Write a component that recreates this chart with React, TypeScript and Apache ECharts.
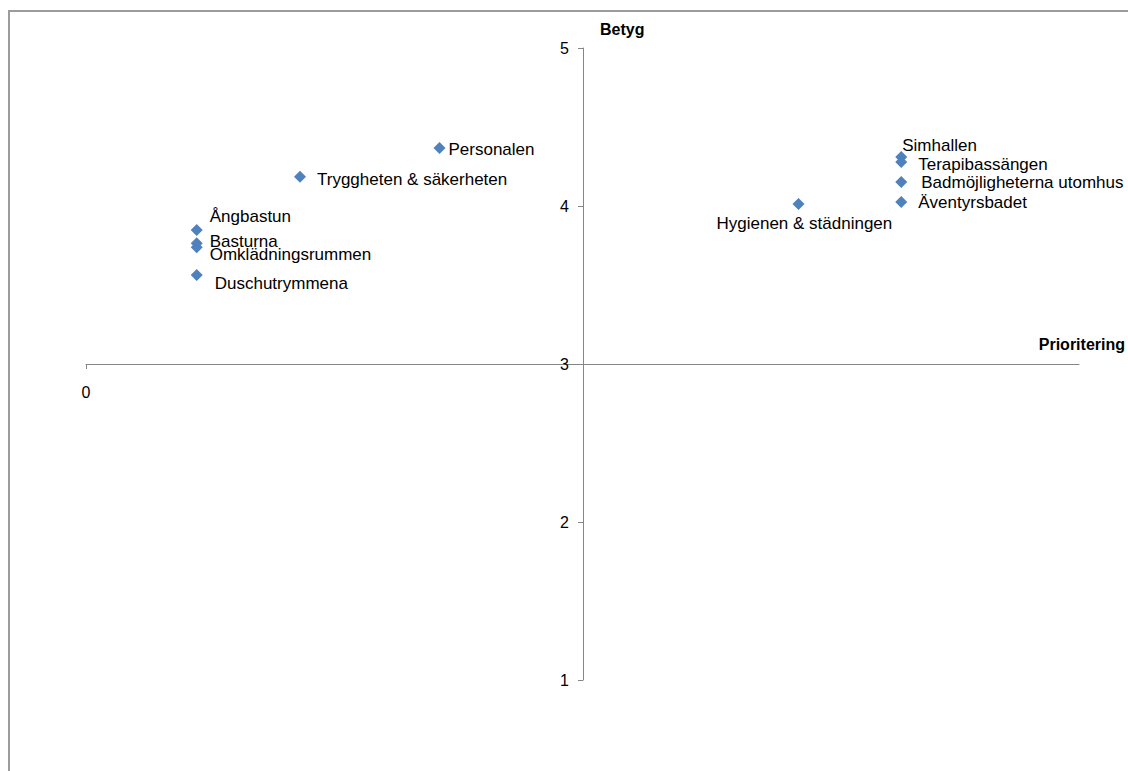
import React, { useEffect, useRef } from "react";
import * as echarts from "echarts";

const names = [
  "Personalen",
  "Tryggheten & säkerheten",
  "Ångbastun",
  "Basturna",
  "Omklädningsrummen",
  "Duschutrymmena",
  "Simhallen",
  "Terapibassängen",
  "Badmöjligheterna utomhus",
  "Äventyrsbadet",
  "Hygienen & städningen",
];
const prioritering = [0.712, 0.431, 0.223, 0.223, 0.223, 0.223, 1.642, 1.642, 1.642, 1.642, 1.435];
const betyg = [4.367, 4.185, 3.848, 3.764, 3.739, 3.563, 4.31, 4.278, 4.152, 4.025, 4.013];
const yTicks = [1, 2, 3, 4, 5];
const xTickLabels = [0];

// label placement (pixel offsets from the marker centre)
const labelOffsets: [number, number][] = [
  [9, 1],
  [17, 3],
  [13, -14],
  [13, -2],
  [13, 7],
  [18, 8],
  [1, -12],
  [17, 2],
  [20, 1],
  [17, 0],
  [-82, 20],
];

const FONT = "'Liberation Sans', Arial, sans-serif";

export default function App() {
  const ref = useRef<HTMLDivElement>(null);
  useEffect(() => {
    if (!ref.current) return;
    const chart = echarts.init(ref.current, null, { renderer: "svg" });
    const data = names.map((n, i) => ({
      name: n,
      value: [prioritering[i], betyg[i]],
      label: { offset: labelOffsets[i] },
    }));
    chart.setOption({
      animation: false,
      backgroundColor: "#ffffff",
      textStyle: { fontFamily: FONT },
      graphic: [
        {
          type: "rect",
          shape: { x: 9, y: 11, width: 1200, height: 800 },
          style: { fill: "none", stroke: "#9c9c9c", lineWidth: 2 },
          silent: true,
        },
      ],
      grid: { left: 86, top: 48, width: 994, height: 632 },
      xAxis: {
        type: "value",
        min: 0,
        max: 2,
        offset: -316,
        name: "Prioritering",
        nameLocation: "end",
        nameGap: 46,
        nameTextStyle: {
          fontFamily: FONT,
          fontWeight: "bold",
          fontSize: 16,
          color: "#000",
          align: "right",
          verticalAlign: "bottom",
          padding: [0, 0, 12, 0],
        },
        axisLine: { show: true, lineStyle: { color: "#868686", width: 1 } },
        axisTick: { show: true, length: 5, customValues: xTickLabels, lineStyle: { color: "#868686" } },
        axisLabel: {
          customValues: xTickLabels,
          margin: 20,
          fontSize: 16,
          color: "#000",
          fontFamily: FONT,
        },
        splitLine: { show: false },
      },
      yAxis: {
        type: "value",
        min: 1,
        max: 5,
        interval: 1,
        offset: -497,
        name: "Betyg",
        nameLocation: "end",
        nameGap: 19,
        nameTextStyle: {
          fontFamily: FONT,
          fontWeight: "bold",
          fontSize: 16,
          color: "#000",
          align: "left",
          verticalAlign: "middle",
          padding: [0, 0, 0, 17],
        },
        axisLine: { show: true, lineStyle: { color: "#868686", width: 1 } },
        axisTick: { show: true, length: 5, customValues: yTicks, lineStyle: { color: "#868686" } },
        axisLabel: {
          customValues: yTicks,
          margin: 14,
          fontSize: 16,
          color: "#000",
          fontFamily: FONT,
        },
        splitLine: { show: false },
      },
      series: [
        {
          type: "scatter",
          symbol: "diamond",
          symbolSize: 12,
          itemStyle: { color: "#4F81BD", opacity: 1 },
          label: {
            show: true,
            formatter: "{b}",
            position: "inside",
            align: "left",
            verticalAlign: "middle",
            color: "#000",
            opacity: 1,
            fontSize: 17,
            fontFamily: FONT,
            textBorderWidth: 0,
          },
          emphasis: { disabled: true },
          data,
        },
      ],
    });
    return () => chart.dispose();
  }, []);
  return (
    <div
      ref={ref}
      style={{ position: "absolute", left: 0, top: 0, width: 1128, height: 771 }}
    />
  );
}
